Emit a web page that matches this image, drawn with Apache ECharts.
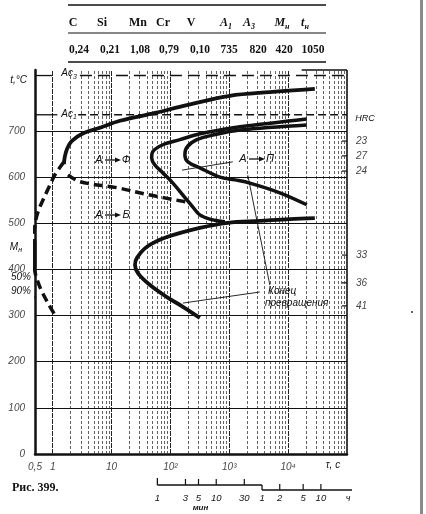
<!DOCTYPE html>
<html><head><meta charset="utf-8">
<script src="https://cdn.jsdelivr.net/npm/echarts@6/dist/echarts.min.js"></script>
<style>html,body{margin:0;padding:0;background:#fff}#c{width:426px;height:514px}</style>
</head><body><div id="c"></div>
<script>
// ---------------- data ----------------
const tableHeader = ['C', 'Si', 'Mn', 'Cr', 'V', 'A1', 'A3', 'MH', 'tH'];
const tableValues = ['0,24', '0,21', '1,08', '0,79', '0,10', '735', '820', '420', '1050'];
const xTickValues = [0.5, 1, 10, 100, 1000, 10000];
const xTickLabels = ['0,5', '1', '10', '10²', '10³', '10⁴'];
const yTickValues = [0, 100, 200, 300, 400, 500, 600, 700];
const yTickLabels = ['0', '100', '200', '300', '400', '500', '600', '700'];
const gridTemps = [100, 200, 300, 400, 500, 600, 700];
const AC1 = 735, AC3 = 820, MH = 420, M50 = 373, M90 = 340;
const hrcTemps = [678, 646, 613, 431, 371, 321];
const hrcLabels = ['23', '27', '24', '33', '36', '41'];
const minuteTicks = [60, 180, 300, 600, 1800];
const minuteLabels = ['1', '3', '5', '10', '30'];
const hourTicks = [3600, 7200, 18000, 36000];
const hourLabels = ['1', '2', '5', '10'];
const zoneLabels = [['А', 'Ф'], ['А', 'Б'], ['А', 'П']];
// curves: [time s, temperature °C]
const ferriteStart = [[28400,791],[4890,784],[1020,776],[190,756],[55,739],[13.9,722],[6.4,707],[3.3,695],[2.1,678],[1.75,661],[1.6,643],[1.55,628]];
const coolingCurve = [[1.55,633],[1.09,605],[0.90,583],[0.71,555],[0.56,524],[0.5,496],[0.48,464],[0.48,420],[0.5,394],[0.56,373],[0.66,351],[0.83,327],[1.09,301]];
const bainiteStart = [[1.82,605],[2.9,590],[12.3,577],[45,561],[190,546]];
const pearliteStart = [[20750,726],[1510,709],[692,702],[316,694],[145,681],[74.5,670],[50,655],[48,642],[54.5,626],[74.5,609],[110,587],[163,561],[241,535],[316,518],[468,509],[841,503]];
const pearliteEnd = [[20750,713],[1510,702],[526,691],[281,681],[191,665],[176,648],[198,633],[316,620],[692,600],[1245,594],[2235,587],[7230,566],[20750,540]];
const bainiteEnd = [[28400,511],[10670,509],[3300,505],[946,501],[316,490],[87,470],[40,449],[27,425],[25,410],[28,392],[45,366],[87,340],[163,319],[316,295]];
const leaderAP = [[157,615],[1150,633]];
const leaderEnd1 = [[2065,604],[4890,366]];
const leaderEnd2 = [[163,327],[3300,351]];

// ---------------- chart ----------------
const ink = '#111';
const chart = echarts.init(document.getElementById('c'), null, {renderer: 'canvas'});
const decades = [1, 10, 100, 1000, 10000];
const minorX = [], majorX = [];
decades.forEach(d => { for (let k = 1; k <= 9; k++) (k === 1 ? majorX : minorX).push(d * k); });

function curve(data, width, dash, smooth) {
  return {type: 'line', data, symbol: 'none', smooth: smooth === undefined ? 0.35 : smooth, silent: true,
    clip: false, animation: false, z: 5,
    lineStyle: {color: ink, width, type: dash || 'solid', cap: 'butt', join: 'round'}};
}
const italic = {fontFamily: 'Liberation Sans', fontStyle: 'italic', fontSize: 10, color: ink};

const series = [
  {type: 'line', data: [], silent: true, animation: false, z: 1,
    markLine: {silent: true, symbol: 'none', animation: false, label: {show: false},
      lineStyle: {color: '#3a3a3a', width: 0.8, type: [3, 2]},
      data: minorX.map(v => ({xAxis: v}))}},
  {type: 'line', data: [], silent: true, animation: false, z: 2,
    markLine: {silent: true, symbol: 'none', animation: false, label: {show: false},
      lineStyle: {color: '#222', width: 1, type: [5, 1]},
      data: majorX.map(v => ({xAxis: v}))}},
  {type: 'line', data: [], silent: true, animation: false, z: 3,
    markLine: {silent: true, symbol: 'none', animation: false, label: {show: false},
      lineStyle: {color: ink, width: 1.1, type: 'solid'},
      data: gridTemps.map(v => ({yAxis: v})).concat([{xAxis: 1e5, lineStyle: {width: 1.6}}])}},
  // Ac1 / Ac3 lines
  curve([[0.5, AC1], [1.2, AC1]], 1.3, 'solid', false),
  curve([[2.7, AC1], [1e5, AC1]], 1.6, [8, 4], false),
  curve([[0.5, AC3], [0.97, AC3]], 1.3, 'solid', false),
  curve([[2.9, AC3], [1e5, AC3]], 1.6, [12, 6], false),
  curve([[17000, 832], [1e5, 832]], 1.5, 'solid', false),
  // Mн marks
  curve([[0.1675, MH], [0.5, MH]], 3, 'solid', false),
  curve([[0.49, 405], [0.49, 462]], 4, 'solid', false),
  curve([[0.1675, M50], [0.47, M50]], 1, 'solid', false),
  curve([[0.1675, M90], [0.5, M90]], 1, 'solid', false),
  // transformation curves
  curve(ferriteStart, 3.8),
  curve(coolingCurve, 3.5, [9, 5]),
  curve(bainiteStart, 3.5, [9, 5]),
  curve(pearliteStart, 3.5),
  curve(pearliteEnd, 3.5),
  curve(bainiteEnd, 3.8),
  curve(leaderAP, 0.9, 'solid', false),
  curve(leaderEnd1, 0.9, 'solid', false),
  curve(leaderEnd2, 0.9, 'solid', false),
  // tick labels
  {type: 'scatter', data: xTickValues.map(v => [v, 0]), symbolSize: 0, silent: true, animation: false, clip: false,
    label: Object.assign({show: true, position: 'bottom', distance: 8, formatter: p => xTickLabels[p.dataIndex]}, italic)},
  {type: 'scatter', data: yTickValues.map(v => [0.5, v]), symbolSize: 0, silent: true, animation: false, clip: false,
    label: Object.assign({show: true, position: 'left', distance: 10, formatter: p => yTickLabels[p.dataIndex]}, italic)},
  {type: 'scatter', data: hrcTemps.map(v => [1e5, v]), symbol: 'rect', symbolSize: [5, 1.5], symbolOffset: [-2.5, 0],
    itemStyle: {color: ink}, silent: true, animation: false, clip: false,
    label: Object.assign({show: true, position: 'right', distance: 9, formatter: p => hrcLabels[p.dataIndex]}, italic)}
];

chart.setOption({
  animation: false,
  backgroundColor: '#fff',
  grid: {left: 35, top: 70, width: 312, height: 384, containLabel: false},
  xAxis: {type: 'log', logBase: 10, min: 0.5, max: 1e5,
    axisLine: {show: true, onZero: false, lineStyle: {color: ink, width: 2.5}},
    axisTick: {show: false}, axisLabel: {show: false}, splitLine: {show: false}},
  yAxis: {type: 'value', min: 0, max: 832,
    axisLine: {show: true, onZero: false, lineStyle: {color: ink, width: 2.5}},
    axisTick: {show: false}, axisLabel: {show: false}, splitLine: {show: false}},
  series
});

// ---------------- annotations ----------------
const px = v => chart.convertToPixel({xAxisIndex: 0}, v);
const py = v => chart.convertToPixel({yAxisIndex: 0}, v);
function txt(text, x, y, font, align, extra) {
  return Object.assign({type: 'text', silent: true, z: 20,
    style: Object.assign({text, x, y, font, fill: ink, align: align || 'center', verticalAlign: 'middle',
      textAlign: align || 'center', textVerticalAlign: 'middle'}, extra || {})});
}
function ln(x1, y1, x2, y2, w, color) {
  return {type: 'line', silent: true, z: 20, shape: {x1, y1, x2, y2}, style: {stroke: color || ink, lineWidth: w || 1}};
}
const g = [];
// table
g.push(ln(68, 5, 326, 5, 1.5), ln(68, 33, 326, 33, 1.2), ln(68, 62, 326, 62, 1.5));
const hdrX = [73, 102, 138, 163, 191, 226, 249, 282, 305];
const valX = [79, 110, 140, 169, 200, 229, 258, 284, 313];
const serifB = 'bold 12px "Liberation Serif"';
const serifBI = 'italic bold 12px "Liberation Serif"';
const subRich = {
  m: {font: serifBI, fill: ink, verticalAlign: 'bottom'},
  s: {font: 'italic bold 8px "Liberation Serif"', fill: ink, verticalAlign: 'bottom', padding: [0, 0, -2, 0]}
};
tableHeader.forEach((h, i) => {
  if (i < 5) g.push(txt(h, hdrX[i], 23, serifB));
  else g.push(txt('{m|' + h[0] + '}{s|' + (h[1] === 'H' ? 'н' : h[1]) + '}', hdrX[i], 23, serifBI, 'center', {rich: subRich}));
});
tableValues.forEach((v, i) => g.push(txt(v, valX[i], 50, 'bold 11.5px "Liberation Serif"')));
// axis texts
const itF = 'italic 10px "Liberation Sans"';
const itRich = {
  m: {font: itF, fill: ink, verticalAlign: 'bottom'},
  s: {font: 'italic 7px "Liberation Sans"', fill: ink, verticalAlign: 'bottom', padding: [0, 0, -2, 0]}
};
g.push(txt('t,°C', 27, 80, itF, 'right'));
g.push(txt('{m|M}{s|н}', 22, 247, itF, 'right', {rich: itRich}));
g.push(txt('50%', 31, 277, itF, 'right'));
g.push(txt('90%', 31, 291, itF, 'right'));
g.push(txt('{m|Ac}{s|3}', 69, py(AC3) - 2, itF, 'center', {rich: itRich}));
g.push(txt('{m|Ac}{s|1}', 69, py(AC1) - 1, itF, 'center', {rich: itRich}));
g.push(txt('HRC', 365, 118, 'italic 9px "Liberation Sans"'));
g.push(txt('τ, c', 333, 465, itF));
// zone labels "A → X" with a drawn arrow
const zonePos = [[112, 160], [112, 215], [256, 159]];
zoneLabels.forEach((z, i) => {
  const [cx, cy] = zonePos[i];
  g.push(txt(z[0], cx - 13, cy, 'italic 11px "Liberation Sans"'));
  g.push(txt(z[1], cx + 14, cy, 'italic 11px "Liberation Sans"'));
  g.push(ln(cx - 7, cy, cx + 6, cy, 1.3));
  g.push({type: 'polygon', silent: true, z: 20, shape: {points: [[cx + 9, cy], [cx + 3, cy - 2.5], [cx + 3, cy + 2.5]]}, style: {fill: ink}});
});
g.push(txt('Конец', 268, 291, 'italic 10px "Liberation Sans"', 'left'));
g.push(txt('превращения', 265, 303, 'italic 10px "Liberation Sans"', 'left'));
g.push(txt('Рис. 399.', 12, 488, 'bold 12px "Liberation Serif"', 'left'));
// time scale (minutes, hours)
const yMin = 485, yHour = 490;
const xm0 = px(minuteTicks[0]), xh0 = px(hourTicks[0]);
g.push(ln(xm0, yMin, xh0, yMin, 1.3), ln(xm0, yMin - 7, xm0, yMin, 1.3), ln(xh0, yMin, xh0, yHour, 1.3), ln(xh0, yHour, 352, yHour, 1.3));
minuteTicks.forEach((t, i) => {
  const x = px(t);
  if (i > 0) g.push(ln(x, yMin - 6, x, yMin, 1.2));
  g.push(txt(minuteLabels[i], x, 498, 'italic 9.5px "Liberation Sans"'));
});
hourTicks.forEach((t, i) => {
  const x = px(t);
  if (i > 0) g.push(ln(x, yHour - 6, x, yHour, 1.2));
  g.push(txt(hourLabels[i], x, 498, 'italic 9.5px "Liberation Sans"'));
});
g.push(txt('ч', 348, 498, 'italic 9px "Liberation Sans"'));
g.push(txt('мин', px(300) + 2, 508, 'italic bold 8px "Liberation Sans"'));
// page edge and speck
g.push({type: 'rect', silent: true, shape: {x: 420, y: 0, width: 3, height: 514}, style: {fill: '#8a8a8a'}});
g.push({type: 'circle', silent: true, shape: {cx: 412, cy: 312, r: 1}, style: {fill: '#333'}});
chart.setOption({graphic: g});
</script></body></html>
